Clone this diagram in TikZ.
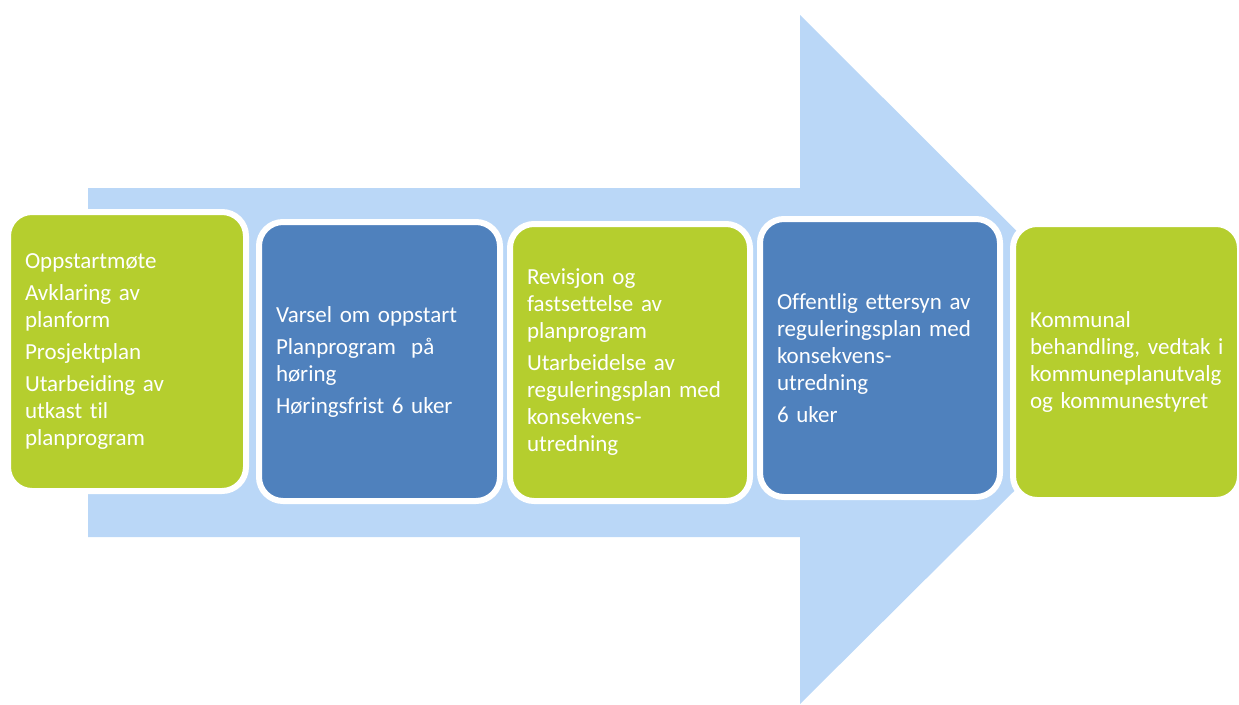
\documentclass[tikz,border=0pt]{standalone}
\usepackage{fontspec}
\setmainfont{Carlito}[Ligatures=NoCommon]
\definecolor{arrowblue}{RGB}{186,215,247}
\definecolor{limegreen}{RGB}{181,206,46}
\definecolor{stepblue}{RGB}{79,129,189}
\begin{document}
\begin{tikzpicture}[x=1pt,y=-1pt,
  stepbox/.style={rounded corners=24pt, draw=white, line width=6pt,
    inner xsep=17pt, inner ysep=0pt, align=left, text=white,
    font=\fontsize{23}{27}\selectfont},
  greenbox/.style={stepbox, fill=limegreen},
  bluebox/.style={stepbox, fill=stepblue}]
\useasboundingbox (0,0) rectangle (1239,704);
% big arrow
\fill[arrowblue] (88,188) -- (800,188) -- (800,15) -- (1146,360) -- (800,704) -- (800,537) -- (88,537) -- cycle;
% boxes
\node[greenbox, minimum width=238pt, text width=204pt, minimum height=279pt] (b1) at (127,351.5)
  {Oppstartmøte\\[5pt]Avklaring av\\planform\\[5pt]Prosjektplan\\[5pt]Utarbeiding av\\utkast til\\planprogram};
\node[bluebox, minimum width=241pt, text width=207pt, minimum height=279pt] (b2) at (379.5,361.5)
  {Varsel om oppstart\\[5pt]Planprogram~ på\\høring\\[5pt]Høringsfrist 6 uker};
\node[greenbox, minimum width=240pt, text width=206pt, minimum height=277pt] (b3) at (630,362.5)
  {Revisjon og\\fastsettelse av\\planprogram\\[5pt]Utarbeidelse av\\reguleringsplan med\\konsekvens-\\utredning};
\node[bluebox, minimum width=240pt, text width=206pt, minimum height=278pt] (b4) at (880,358)
  {Offentlig ettersyn av\\reguleringsplan med\\konsekvens-\\utredning\\[5pt]6 uker};
\node[greenbox, minimum width=227pt, text width=193pt, minimum height=276pt] (b5) at (1126.5,362)
  {Kommunal\\\mbox{behandling, vedtak i}\\\mbox{kommuneplanutvalg}\\og kommunestyret};
\end{tikzpicture}
\end{document}
